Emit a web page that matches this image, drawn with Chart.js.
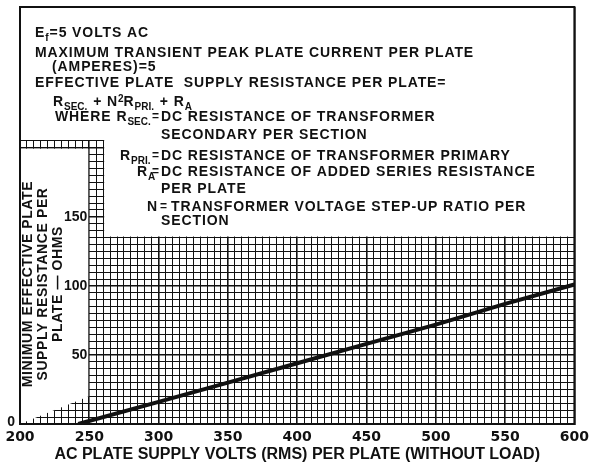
<!DOCTYPE html>
<html>
<head>
<title>Minimum effective plate supply resistance</title>
<script src="https://cdn.jsdelivr.net/npm/chart.js"></script>
<style>
  body { margin: 0; background: #fff; }
  #wrap { width: 594px; height: 464px; }
</style>
</head>
<body>
<div id="wrap"><canvas id="plate_chart"></canvas></div>
<script>
// curve
const volts = [242, 300, 350, 400, 450, 500, 550, 600];
const ohms = [0, 16, 30, 44, 58, 72, 87, 101];
const xTickLabels = [200, 250, 300, 350, 400, 450, 500, 550, 600];
const yTickLabels = [0, 50, 100, 150];

const ink = '#111';
const textFont = '"Liberation Sans", Arial, sans-serif';
const numFont = '"DejaVu Sans", sans-serif';

// notes block: [baseline, [[x or null, text, kind], ...]]
const notes = [
    [37, [[35, 'E'], [null, 'f', 'sub'], [null, '=5 VOLTS AC']]],
    [57, [[35, 'MAXIMUM TRANSIENT PEAK PLATE CURRENT PER PLATE']]],
    [71, [[52, '(AMPERES)=5']]],
    [87, [[35, 'EFFECTIVE PLATE  SUPPLY RESISTANCE PER PLATE=']]],
    [106, [[53, 'R'], [null, 'SEC.', 'sub'], [null, ' + N'], [null, '2', 'sup'], [null, 'R'], [null, 'PRI.', 'sub'], [null, ' + R'], [null, 'A', 'sub']]],
    [121, [[55, 'WHERE R'], [null, 'SEC.', 'sub'], [152, '=', 'eq'], [161, 'DC RESISTANCE OF TRANSFORMER']]],
    [139, [[161, 'SECONDARY PER SECTION']]],
    [160, [[120, 'R'], [null, 'PRI.', 'sub'], [152, '=', 'eq'], [161, 'DC RESISTANCE OF TRANSFORMER PRIMARY']]],
    [176, [[137, 'R'], [null, 'A', 'sub'], [152, '=', 'eq'], [161, 'DC RESISTANCE OF ADDED SERIES RESISTANCE']]],
    [193, [[161, 'PER PLATE']]],
    [211, [[147, 'N'], [160, '=', 'eq'], [171, 'TRANSFORMER VOLTAGE STEP-UP RATIO PER']]],
    [225, [[161, 'SECTION']]]
];
const yTitle = ['MINIMUM EFFECTIVE PLATE', 'SUPPLY RESISTANCE PER', 'PLATE \u2014 OHMS'];

function drawParts(ctx, y, parts) {
    let x = 0;
    for (const [px, text, kind] of parts) {
        if (px !== null) x = px;
        let size = 14, dy = 0, gap = '0.9px';
        if (kind === 'sub') { size = 10; dy = 4; gap = '0px'; }
        if (kind === 'sup') { size = 10; dy = -4; gap = '0px'; }
        if (kind === 'eq') { size = 12; dy = -1; gap = '0px'; }
        ctx.letterSpacing = gap;
        ctx.font = 'bold ' + size + 'px ' + textFont;
        ctx.fillText(text, x, y + dy);
        x += ctx.measureText(text).width + (kind === 'sub' ? 1 : 0);
    }
}

const sheet = {
    id: 'sheet',
    beforeDatasetsDraw(chart) {
        const {ctx, chartArea: a, scales: {x, y}} = chart;
        const X = v => x.getPixelForValue(v);
        const Y = v => y.getPixelForValue(v);
        ctx.save();
        ctx.fillStyle = '#fff';
        // white notes box
        ctx.beginPath();
        ctx.moveTo(a.left, a.top);
        ctx.lineTo(a.right, a.top);
        ctx.lineTo(a.right, Y(135) - 1);
        ctx.lineTo(X(260) + 1, Y(135) - 1);
        ctx.lineTo(X(260) + 1, Y(205) - 1);
        ctx.lineTo(a.left, Y(205) - 1);
        ctx.closePath();
        ctx.fill();
        // white panel for the axis label
        ctx.beginPath();
        ctx.moveTo(a.left, Y(200) + 1);
        ctx.lineTo(X(250) - 1, Y(200) + 1);
        ctx.lineTo(X(250) - 1, Y(20));
        ctx.lineTo(a.left, Y(0));
        ctx.closePath();
        ctx.fill();
        ctx.strokeStyle = ink;
        ctx.lineWidth = 2;
        ctx.strokeRect(a.left, a.top, a.right - a.left, a.bottom - a.top);
        ctx.restore();
    },
    afterDraw(chart) {
        const {ctx, chartArea: a, scales: {x, y}} = chart;
        const X = v => x.getPixelForValue(v);
        const Y = v => y.getPixelForValue(v);
        ctx.save();
        ctx.fillStyle = ink;

        ctx.font = 'bold 14px ' + textFont;
        ctx.textAlign = 'right';
        ctx.textBaseline = 'middle';
        yTickLabels.forEach(v => {
            if (v === 0) ctx.fillText(String(v), a.left - 5, Y(v) - 2);
            else ctx.fillText(String(v), X(250) - 2, Y(v));
        });

        ctx.letterSpacing = '0.6px';
        ctx.textAlign = 'center';
        yTitle.forEach((t, i) => {
            ctx.save();
            ctx.translate(28 + i * 15, 284);
            ctx.rotate(-Math.PI / 2);
            ctx.fillText(t, 0, 0);
            ctx.restore();
        });

        ctx.textAlign = 'left';
        ctx.textBaseline = 'alphabetic';
        notes.forEach(([by, parts]) => drawParts(ctx, by, parts));
        ctx.restore();
    }
};

const ctx = document.getElementById('plate_chart').getContext('2d');
new Chart(ctx, {
    type: 'line',
    data: {
        datasets: [{
            data: volts.map((v, i) => ({x: v, y: ohms[i]})),
            borderColor: ink,
            borderWidth: 4,
            pointRadius: 0,
            fill: false,
            tension: 0
        }]
    },
    options: {
        responsive: true,
        maintainAspectRatio: false,
        animation: false,
        layout: { padding: { top: 7, right: 15, bottom: 0, left: 0 } },
        plugins: {
            legend: { display: false },
            tooltip: { enabled: false }
        },
        scales: {
            x: {
                type: 'linear',
                min: 200,
                max: 600,
                afterFit: s => { s.height = 40; },
                ticks: {
                    stepSize: 5,
                    autoSkip: false,
                    maxRotation: 0,
                    padding: 5,
                    color: ink,
                    font: { family: numFont, size: 14, weight: 'bold' },
                    callback: v => xTickLabels.includes(v) ? String(v) : ''
                },
                grid: {
                    color: ink,
                    drawTicks: false,
                    lineWidth: c => (c.tick && c.tick.value % 50 === 0) ? 1.6 : 1
                },
                border: { display: true, color: ink, width: 2 },
                title: {
                    display: true,
                    text: 'AC PLATE SUPPLY VOLTS (RMS) PER PLATE (WITHOUT LOAD)',
                    color: ink,
                    font: { family: textFont, size: 16, weight: 'bold' },
                    padding: 0
                }
            },
            y: {
                min: 0,
                max: 302,
                afterFit: s => { s.width = 20; },
                ticks: { stepSize: 5, display: false },
                grid: {
                    color: ink,
                    drawTicks: false,
                    lineWidth: c => (c.tick && c.tick.value % 50 === 0) ? 1.6 : 1
                },
                border: { display: true, color: ink, width: 2 }
            }
        }
    },
    plugins: [sheet]
});
</script>
</body>
</html>
